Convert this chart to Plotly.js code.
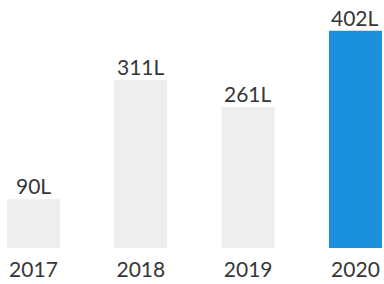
<!DOCTYPE html>
<html><head><meta charset="utf-8">
<script src="https://cdn.plot.ly/plotly-3.0.1.min.js"></script>
<style>html,body{margin:0;padding:0;background:#fff;}#chart{width:384px;height:284px;}</style>
</head><body><div id="chart"></div>
<script>
const years = ['2017', '2018', '2019', '2020'];
const values = [90, 311, 261, 402];
const labels = ['90L', '311L', '261L', '402L'];
const colors = ['#eeeeee', '#eeeeee', '#eeeeee', '#1a8fdc'];

const annotations = values.map((v, i) => ({
  x: i, y: v, xref: 'x', yref: 'y',
  text: labels[i], showarrow: false,
  xanchor: 'center', yanchor: 'bottom', yshift: -1,
  font: {family: 'Lato, sans-serif', size: 21, color: '#363636'}
}));

Plotly.newPlot('chart', [{
  type: 'bar',
  x: [0, 1, 2, 3],
  y: values,
  marker: {color: colors, line: {width: 0}},
  width: 0.494,
  hoverinfo: 'none'
}], {
  width: 384, height: 284,
  margin: {l: 0, r: 0, t: 0, b: 36},
  paper_bgcolor: '#ffffff', plot_bgcolor: '#ffffff',
  showlegend: false,
  annotations: annotations,
  xaxis: {
    range: [-0.312, 3.266],
    tickmode: 'array', tickvals: [0, 1, 2, 3], ticktext: years,
    showgrid: false, zeroline: false, showline: false, ticks: '',
    tickfont: {family: 'Lato, sans-serif', size: 21, color: '#363636'},
    ticklabelstandoff: 7
  },
  yaxis: {range: [0, 459], visible: false, showgrid: false, zeroline: false},
  font: {family: 'Lato, sans-serif'}
}, {staticPlot: true});
</script></body></html>
